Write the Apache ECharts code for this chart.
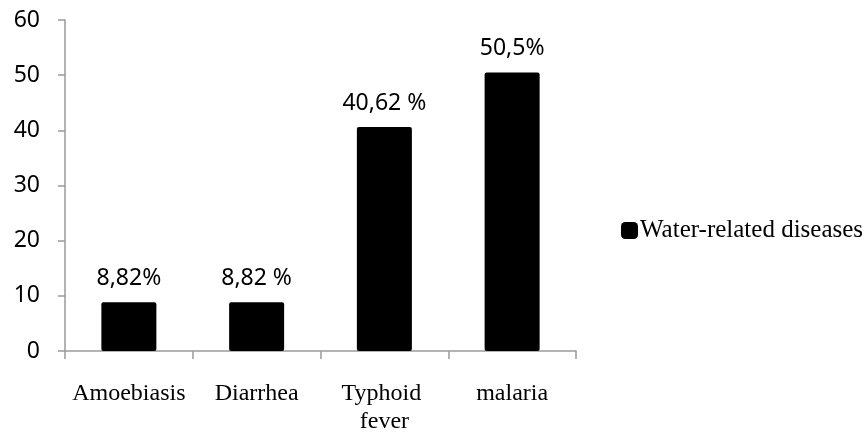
<!DOCTYPE html>
<html>
<head>
<meta charset="utf-8">
<script src="https://cdn.jsdelivr.net/npm/echarts@6/dist/echarts.min.js"></script>
<style>html,body{margin:0;padding:0;background:#fff;}#c{width:867px;height:436px;}</style>
</head>
<body>
<div id="c"></div>
<script>
var categories = ["Amoebiasis", "Diarrhea", "Typhoid fever", "malaria"];
var values = [8.82, 8.82, 40.62, 50.5];
var valueLabels = ["8,82%", "8,82 %", "40,62 %", "50,5%"];
var seriesName = "Water-related diseases";
var yTicks = [0, 10, 20, 30, 40, 50, 60];

var chart = echarts.init(document.getElementById('c'), null, {renderer: 'canvas'});
var axisColor = '#9a9a9a';
var sansFont = '"Noto Sans", sans-serif';
var serifFont = '"Liberation Serif", serif';
chart.setOption({
  animation: false,
  backgroundColor: '#fff',
  grid: {left: 65, right: 291, top: 20, bottom: 83, containLabel: false},
  legend: {
    data: [seriesName],
    left: 616, top: 213,
    icon: 'roundRect',
    itemWidth: 17, itemHeight: 17, itemGap: 4,
    textStyle: {fontFamily: serifFont, fontSize: 25, color: '#000', padding: [0,0,0,-3]}
  },
  xAxis: {
    type: 'category',
    data: categories,
    axisLine: {lineStyle: {color: axisColor, width: 1.5}},
    axisTick: {show: true, length: 8, lineStyle: {color: axisColor, width: 1.5}},
    axisLabel: {
      color: '#000', fontFamily: serifFont, fontSize: 24, lineHeight: 28,
      margin: 29, width: 125, overflow: 'break', interval: 0
    }
  },
  yAxis: {
    type: 'value',
    min: yTicks[0], max: yTicks[yTicks.length - 1], interval: 10,
    splitLine: {show: false},
    axisLine: {show: true, lineStyle: {color: axisColor, width: 1.5}},
    axisTick: {show: true, length: 7, lineStyle: {color: axisColor, width: 1.5}},
    axisLabel: {color: '#000', fontFamily: sansFont, fontSize: 23, margin: 25}
  },
  series: [{
    name: seriesName,
    type: 'bar',
    data: values,
    barWidth: 55,
    itemStyle: {color: '#000', borderRadius: 2},
    label: {
      show: true, position: 'top', distance: 12,
      fontFamily: sansFont, fontSize: 23, color: '#000',
      formatter: function (p) { return valueLabels[p.dataIndex]; }
    }
  }]
});
</script>
</body>
</html>
